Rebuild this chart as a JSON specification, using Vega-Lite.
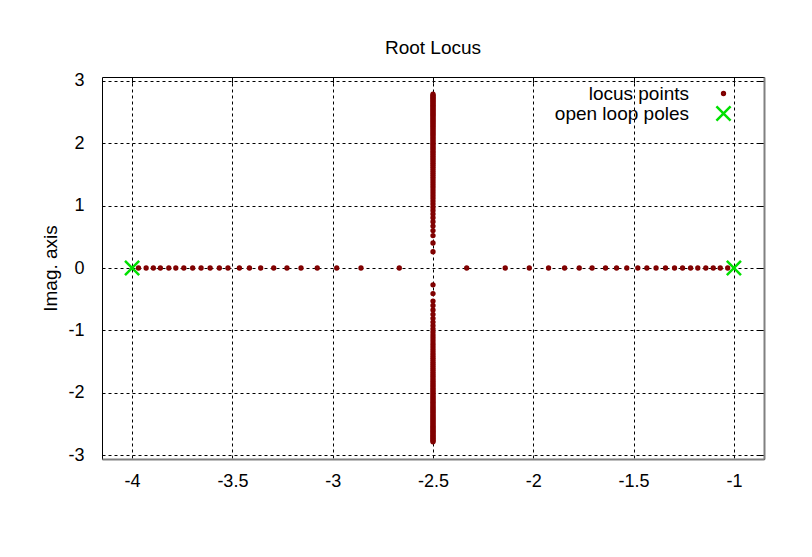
{
 "$schema": "https://vega.github.io/schema/vega-lite/v6.json",
 "width": 662, "height": 382,
 "autosize": {"type": "none"},
 "padding": {"left": 102, "top": 77, "right": 48, "bottom": 98},
 "background": "white",
 "title": {"text": "Root Locus", "fontSize": 19, "font": "Liberation Sans", "fontWeight": "normal", "offset": 14, "color": "black"},
 "config": {
  "view": {"stroke": "black", "strokeWidth": 1},
  "axis": {"labelFont": "Liberation Sans", "labelFontSize": 18, "labelColor": "black", "gridColor": "black", "gridDash": [3, 3], "gridOpacity": 1, "gridWidth": 1, "ticks": false, "titleFont": "Liberation Sans", "titleFontSize": 19, "titleFontWeight": "normal", "titleColor": "black", "labelExpr": "toString(datum.value)"},
  "legend": {"labelFont": "Liberation Sans", "labelFontSize": 19, "labelColor": "black", "orient": "none", "legendX": 582, "legendY": 7, "symbolStrokeWidth": 2.5, "rowPadding": -4, "labelAlign": "right", "labelOffset": -44, "symbolOffset": 30, "padding": 0}
 },
 "datasets": {
  "pts": [
   {"re": -3.968, "im": 0, "series": "locus points"}, {"re": -3.930, "im": 0, "series": "locus points"}, {"re": -3.894, "im": 0, "series": "locus points"}, {"re": -3.859, "im": 0, "series": "locus points"}, {"re": -3.817, "im": 0, "series": "locus points"}, {"re": -3.782, "im": 0, "series": "locus points"}, {"re": -3.742, "im": 0, "series": "locus points"}, {"re": -3.698, "im": 0, "series": "locus points"}, {"re": -3.656, "im": 0, "series": "locus points"}, {"re": -3.611, "im": 0, "series": "locus points"}, {"re": -3.565, "im": 0, "series": "locus points"}, {"re": -3.522, "im": 0, "series": "locus points"}, {"re": -3.465, "im": 0, "series": "locus points"}, {"re": -3.415, "im": 0, "series": "locus points"}, {"re": -3.359, "im": 0, "series": "locus points"}, {"re": -3.294, "im": 0, "series": "locus points"}, {"re": -3.228, "im": 0, "series": "locus points"}, {"re": -3.158, "im": 0, "series": "locus points"}, {"re": -3.077, "im": 0, "series": "locus points"}, {"re": -2.980, "im": 0, "series": "locus points"}, {"re": -2.859, "im": 0, "series": "locus points"}, {"re": -2.668, "im": 0, "series": "locus points"},
   {"re": -1.031, "im": 0, "series": "locus points"}, {"re": -1.068, "im": 0, "series": "locus points"}, {"re": -1.103, "im": 0, "series": "locus points"}, {"re": -1.140, "im": 0, "series": "locus points"}, {"re": -1.180, "im": 0, "series": "locus points"}, {"re": -1.216, "im": 0, "series": "locus points"}, {"re": -1.256, "im": 0, "series": "locus points"}, {"re": -1.296, "im": 0, "series": "locus points"}, {"re": -1.341, "im": 0, "series": "locus points"}, {"re": -1.388, "im": 0, "series": "locus points"}, {"re": -1.434, "im": 0, "series": "locus points"}, {"re": -1.479, "im": 0, "series": "locus points"}, {"re": -1.534, "im": 0, "series": "locus points"}, {"re": -1.585, "im": 0, "series": "locus points"}, {"re": -1.640, "im": 0, "series": "locus points"}, {"re": -1.707, "im": 0, "series": "locus points"}, {"re": -1.771, "im": 0, "series": "locus points"}, {"re": -1.844, "im": 0, "series": "locus points"}, {"re": -1.924, "im": 0, "series": "locus points"}, {"re": -2.020, "im": 0, "series": "locus points"}, {"re": -2.140, "im": 0, "series": "locus points"}, {"re": -2.332, "im": 0, "series": "locus points"},
   {"re": -2.5, "im": 0.26, "series": "locus points"}, {"re": -2.5, "im": 0.40, "series": "locus points"}, {"re": -2.5, "im": 0.52, "series": "locus points"}, {"re": -2.5, "im": 0.60, "series": "locus points"}, {"re": -2.5, "im": 0.671, "series": "locus points"}, {"re": -2.5, "im": 0.742, "series": "locus points"}, {"re": -2.5, "im": 0.806, "series": "locus points"}, {"re": -2.5, "im": 0.866, "series": "locus points"}, {"re": -2.5, "im": 0.922, "series": "locus points"}, {"re": -2.5, "im": 0.975, "series": "locus points"}, {"re": -2.5, "im": 1.025, "series": "locus points"}, {"re": -2.5, "im": 1.072, "series": "locus points"}, {"re": -2.5, "im": 1.118, "series": "locus points"}, {"re": -2.5, "im": 1.162, "series": "locus points"}, {"re": -2.5, "im": 1.204, "series": "locus points"}, {"re": -2.5, "im": 1.245, "series": "locus points"}, {"re": -2.5, "im": 1.285, "series": "locus points"}, {"re": -2.5, "im": 1.323, "series": "locus points"}, {"re": -2.5, "im": 1.360, "series": "locus points"}, {"re": -2.5, "im": 1.396, "series": "locus points"}, {"re": -2.5, "im": 1.432, "series": "locus points"}, {"re": -2.5, "im": 1.466, "series": "locus points"}, {"re": -2.5, "im": 1.500, "series": "locus points"}, {"re": -2.5, "im": 1.533, "series": "locus points"}, {"re": -2.5, "im": 1.565, "series": "locus points"}, {"re": -2.5, "im": 1.597, "series": "locus points"}, {"re": -2.5, "im": 1.628, "series": "locus points"}, {"re": -2.5, "im": 1.658, "series": "locus points"}, {"re": -2.5, "im": 1.688, "series": "locus points"}, {"re": -2.5, "im": 1.718, "series": "locus points"}, {"re": -2.5, "im": 1.746, "series": "locus points"}, {"re": -2.5, "im": 1.775, "series": "locus points"}, {"re": -2.5, "im": 1.803, "series": "locus points"}, {"re": -2.5, "im": 1.830, "series": "locus points"}, {"re": -2.5, "im": 1.857, "series": "locus points"}, {"re": -2.5, "im": 1.884, "series": "locus points"}, {"re": -2.5, "im": 1.910, "series": "locus points"}, {"re": -2.5, "im": 1.936, "series": "locus points"}, {"re": -2.5, "im": 1.962, "series": "locus points"}, {"re": -2.5, "im": 1.987, "series": "locus points"}, {"re": -2.5, "im": 2.012, "series": "locus points"}, {"re": -2.5, "im": 2.037, "series": "locus points"}, {"re": -2.5, "im": 2.062, "series": "locus points"}, {"re": -2.5, "im": 2.086, "series": "locus points"}, {"re": -2.5, "im": 2.110, "series": "locus points"}, {"re": -2.5, "im": 2.133, "series": "locus points"}, {"re": -2.5, "im": 2.156, "series": "locus points"}, {"re": -2.5, "im": 2.179, "series": "locus points"}, {"re": -2.5, "im": 2.202, "series": "locus points"}, {"re": -2.5, "im": 2.225, "series": "locus points"}, {"re": -2.5, "im": 2.247, "series": "locus points"}, {"re": -2.5, "im": 2.269, "series": "locus points"}, {"re": -2.5, "im": 2.291, "series": "locus points"}, {"re": -2.5, "im": 2.313, "series": "locus points"}, {"re": -2.5, "im": 2.335, "series": "locus points"}, {"re": -2.5, "im": 2.356, "series": "locus points"}, {"re": -2.5, "im": 2.377, "series": "locus points"}, {"re": -2.5, "im": 2.398, "series": "locus points"}, {"re": -2.5, "im": 2.419, "series": "locus points"}, {"re": -2.5, "im": 2.439, "series": "locus points"}, {"re": -2.5, "im": 2.460, "series": "locus points"}, {"re": -2.5, "im": 2.480, "series": "locus points"}, {"re": -2.5, "im": 2.500, "series": "locus points"}, {"re": -2.5, "im": 2.520, "series": "locus points"}, {"re": -2.5, "im": 2.540, "series": "locus points"}, {"re": -2.5, "im": 2.559, "series": "locus points"}, {"re": -2.5, "im": 2.579, "series": "locus points"}, {"re": -2.5, "im": 2.598, "series": "locus points"}, {"re": -2.5, "im": 2.617, "series": "locus points"}, {"re": -2.5, "im": 2.636, "series": "locus points"}, {"re": -2.5, "im": 2.655, "series": "locus points"}, {"re": -2.5, "im": 2.674, "series": "locus points"}, {"re": -2.5, "im": 2.693, "series": "locus points"}, {"re": -2.5, "im": 2.711, "series": "locus points"}, {"re": -2.5, "im": 2.729, "series": "locus points"}, {"re": -2.5, "im": 2.748, "series": "locus points"}, {"re": -2.5, "im": 2.766, "series": "locus points"}, {"re": -2.5, "im": 2.784, "series": "locus points"},
   {"re": -2.5, "im": -0.27, "series": "locus points"}, {"re": -2.5, "im": -0.41, "series": "locus points"}, {"re": -2.5, "im": -0.53, "series": "locus points"}, {"re": -2.5, "im": -0.60, "series": "locus points"}, {"re": -2.5, "im": -0.671, "series": "locus points"}, {"re": -2.5, "im": -0.742, "series": "locus points"}, {"re": -2.5, "im": -0.806, "series": "locus points"}, {"re": -2.5, "im": -0.866, "series": "locus points"}, {"re": -2.5, "im": -0.922, "series": "locus points"}, {"re": -2.5, "im": -0.975, "series": "locus points"}, {"re": -2.5, "im": -1.025, "series": "locus points"}, {"re": -2.5, "im": -1.072, "series": "locus points"}, {"re": -2.5, "im": -1.118, "series": "locus points"}, {"re": -2.5, "im": -1.162, "series": "locus points"}, {"re": -2.5, "im": -1.204, "series": "locus points"}, {"re": -2.5, "im": -1.245, "series": "locus points"}, {"re": -2.5, "im": -1.285, "series": "locus points"}, {"re": -2.5, "im": -1.323, "series": "locus points"}, {"re": -2.5, "im": -1.360, "series": "locus points"}, {"re": -2.5, "im": -1.396, "series": "locus points"}, {"re": -2.5, "im": -1.432, "series": "locus points"}, {"re": -2.5, "im": -1.466, "series": "locus points"}, {"re": -2.5, "im": -1.500, "series": "locus points"}, {"re": -2.5, "im": -1.533, "series": "locus points"}, {"re": -2.5, "im": -1.565, "series": "locus points"}, {"re": -2.5, "im": -1.597, "series": "locus points"}, {"re": -2.5, "im": -1.628, "series": "locus points"}, {"re": -2.5, "im": -1.658, "series": "locus points"}, {"re": -2.5, "im": -1.688, "series": "locus points"}, {"re": -2.5, "im": -1.718, "series": "locus points"}, {"re": -2.5, "im": -1.746, "series": "locus points"}, {"re": -2.5, "im": -1.775, "series": "locus points"}, {"re": -2.5, "im": -1.803, "series": "locus points"}, {"re": -2.5, "im": -1.830, "series": "locus points"}, {"re": -2.5, "im": -1.857, "series": "locus points"}, {"re": -2.5, "im": -1.884, "series": "locus points"}, {"re": -2.5, "im": -1.910, "series": "locus points"}, {"re": -2.5, "im": -1.936, "series": "locus points"}, {"re": -2.5, "im": -1.962, "series": "locus points"}, {"re": -2.5, "im": -1.987, "series": "locus points"}, {"re": -2.5, "im": -2.012, "series": "locus points"}, {"re": -2.5, "im": -2.037, "series": "locus points"}, {"re": -2.5, "im": -2.062, "series": "locus points"}, {"re": -2.5, "im": -2.086, "series": "locus points"}, {"re": -2.5, "im": -2.110, "series": "locus points"}, {"re": -2.5, "im": -2.133, "series": "locus points"}, {"re": -2.5, "im": -2.156, "series": "locus points"}, {"re": -2.5, "im": -2.179, "series": "locus points"}, {"re": -2.5, "im": -2.202, "series": "locus points"}, {"re": -2.5, "im": -2.225, "series": "locus points"}, {"re": -2.5, "im": -2.247, "series": "locus points"}, {"re": -2.5, "im": -2.269, "series": "locus points"}, {"re": -2.5, "im": -2.291, "series": "locus points"}, {"re": -2.5, "im": -2.313, "series": "locus points"}, {"re": -2.5, "im": -2.335, "series": "locus points"}, {"re": -2.5, "im": -2.356, "series": "locus points"}, {"re": -2.5, "im": -2.377, "series": "locus points"}, {"re": -2.5, "im": -2.398, "series": "locus points"}, {"re": -2.5, "im": -2.419, "series": "locus points"}, {"re": -2.5, "im": -2.439, "series": "locus points"}, {"re": -2.5, "im": -2.460, "series": "locus points"}, {"re": -2.5, "im": -2.480, "series": "locus points"}, {"re": -2.5, "im": -2.500, "series": "locus points"}, {"re": -2.5, "im": -2.520, "series": "locus points"}, {"re": -2.5, "im": -2.540, "series": "locus points"}, {"re": -2.5, "im": -2.559, "series": "locus points"}, {"re": -2.5, "im": -2.579, "series": "locus points"}, {"re": -2.5, "im": -2.598, "series": "locus points"}, {"re": -2.5, "im": -2.617, "series": "locus points"}, {"re": -2.5, "im": -2.636, "series": "locus points"}, {"re": -2.5, "im": -2.655, "series": "locus points"}, {"re": -2.5, "im": -2.674, "series": "locus points"}, {"re": -2.5, "im": -2.693, "series": "locus points"}, {"re": -2.5, "im": -2.711, "series": "locus points"}, {"re": -2.5, "im": -2.729, "series": "locus points"}, {"re": -2.5, "im": -2.748, "series": "locus points"}, {"re": -2.5, "im": -2.766, "series": "locus points"}, {"re": -2.5, "im": -2.784, "series": "locus points"},
   {"re": -4, "im": 0, "series": "open loop poles"}, {"re": -1, "im": 0, "series": "open loop poles"}
  ]
 },
 "data": {"name": "pts"},
 "resolve": {"axis": {"x": "independent", "y": "independent"}},
 "layer": [
  {
   "mark": {"type": "point", "opacity": 0},
   "encoding": {
    "x": {"field": "re", "type": "quantitative", "scale": {"domain": [-4.15, -0.85], "nice": false, "zero": false}, "axis": {"orient": "top", "values": [-4, -3.5, -3, -2.5, -2, -1.5, -1], "title": null, "labels": false, "grid": false, "domain": false, "ticks": true, "tickSize": -6, "tickColor": "black"}},
    "y": {"field": "im", "type": "quantitative", "scale": {"domain": [-3.06, 3.06], "nice": false, "zero": false}, "axis": {"orient": "right", "values": [-3, -2, -1, 0, 1, 2, 3], "title": null, "labels": false, "grid": false, "domain": true, "domainColor": "#808080", "domainWidth": 2, "ticks": true, "tickSize": -6, "tickColor": "black"}}
   }
  },
  {
   "mark": {"type": "point", "filled": false, "strokeWidth": 2.5, "opacity": 1},
   "encoding": {
    "x": {"field": "re", "type": "quantitative", "axis": {"orient": "bottom", "values": [-4, -3.5, -3, -2.5, -2, -1.5, -1], "title": null, "grid": true, "labelPadding": 13, "domain": true, "domainColor": "#808080", "domainWidth": 2}},
    "y": {"field": "im", "type": "quantitative", "axis": {"orient": "left", "values": [-3, -2, -1, 0, 1, 2, 3], "title": "Imag. axis", "grid": true, "labelPadding": 18, "domain": false, "titleX": -52, "titleY": 191, "titleBaseline": "middle"}},
    "color": {"field": "series", "type": "nominal", "scale": {"domain": ["locus points", "open loop poles"], "range": ["#800000", "#00e000"]}, "legend": {"title": null}},
    "shape": {"field": "series", "type": "nominal", "scale": {"domain": ["locus points", "open loop poles"], "range": ["circle", "M-1,-1L1,1M-1,1L1,-1"]}, "legend": {"title": null}},
    "size": {"field": "series", "type": "nominal", "scale": {"domain": ["locus points", "open loop poles"], "range": [8, 200]}, "legend": {"title": null}}
   }
  }
 ]
}
